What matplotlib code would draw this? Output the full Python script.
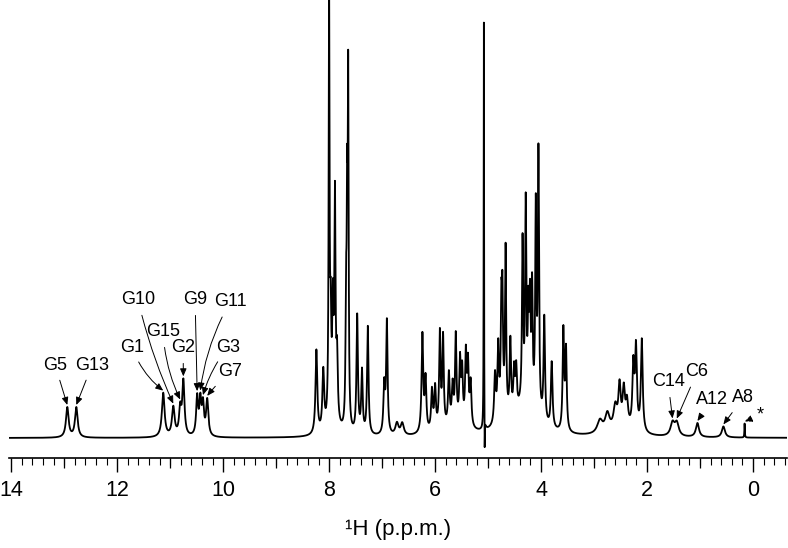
import numpy as np
import matplotlib
matplotlib.use("Agg")
import matplotlib.pyplot as plt

plt.rcParams['font.family'] = ['Liberation Sans', 'DejaVu Sans']

# peak list: shift (p.p.m.), height (a.u.), half width (p.p.m.)
imino_ppm = [12.94, 12.77, 11.13, 10.94, 10.81, 10.75, 10.49, 10.43, 10.38, 10.30]
imino_h = [30, 30, 44, 29, 26, 54, 38, 34, 30, 36]
imino_w = [0.03, 0.03, 0.03, 0.03, 0.025, 0.025, 0.022, 0.022, 0.022, 0.025]

arom_ppm = [8.24, 8.11, 8.00, 7.97, 7.93, 7.89, 7.85, 7.68, 7.66, 7.64,
            7.47, 7.38, 7.27, 6.96, 6.91, 6.72, 6.62]
arom_h = [84, 60, 420, 85, 100, 215, 62, 115, 190, 335,
          118, 62, 108, 48, 112, 12, 12]
arom_w = [0.02, 0.02, 0.01, 0.013, 0.013, 0.013, 0.016, 0.012, 0.01, 0.01,
          0.016, 0.016, 0.016, 0.018, 0.016, 0.035, 0.035]

ribo_ppm = [6.24, 6.18, 6.06, 6.00, 5.91, 5.85, 5.74, 5.67, 5.61, 5.53,
            5.49, 5.42, 5.38, 5.33,
            4.87, 4.81, 4.75, 4.73, 4.67, 4.58, 4.51, 4.47, 4.35, 4.29,
            4.24, 4.21, 4.17, 4.10, 4.05, 3.94, 3.80, 3.58, 3.53]
ribo_h = [98, 52, 40, 42, 95, 90, 52, 38, 88, 62,
          52, 70, 60, 44,
          48, 70, 95, 105, 165, 75, 42, 42, 160, 195,
          85, 95, 115, 200, 260, 105, 66, 100, 80]
ribo_w = [0.018, 0.018, 0.018, 0.018, 0.016, 0.016, 0.018, 0.018, 0.016, 0.016,
          0.016, 0.016, 0.016, 0.018,
          0.018, 0.016, 0.013, 0.013, 0.013, 0.016, 0.016, 0.016, 0.013, 0.013,
          0.013, 0.013, 0.013, 0.013, 0.013, 0.016, 0.018, 0.016, 0.016]

# broad humps under the crowded regions
hump_ppm = [7.92, 4.30, 4.75, 5.60, 2.45]
hump_h = [18, 30, 12, 8, 8]
hump_w = [0.08, 0.25, 0.1, 0.3, 0.25]

methyl_ppm = [2.89, 2.75, 2.60, 2.52, 2.44, 2.38, 2.26, 2.21, 2.10,
              1.52, 1.44, 1.05, 0.56, 0.16]
methyl_h = [13, 18, 22, 40, 36, 24, 62, 80, 92, 13, 13, 14, 11, 14]
methyl_w = [0.06, 0.05, 0.04, 0.025, 0.025, 0.025, 0.02, 0.02, 0.02,
            0.045, 0.045, 0.035, 0.035, 0.005]

# residual water line with its negative lobe
water_ppm = [5.08, 5.065]
water_h = [415, -45]
water_w = [0.004, 0.004]

labels = ['G5', 'G13', 'G1', 'G10', 'G15', 'G2', 'G9', 'G11', 'G3', 'G7',
          'C14', 'C6', 'A12', 'A8', '*']
label_ppm = [12.94, 12.77, 11.13, 10.94, 10.81, 10.75, 10.49, 10.43, 10.38, 10.30,
             1.52, 1.44, 1.05, 0.56, 0.16]

peak_ppm = np.array(imino_ppm + arom_ppm + ribo_ppm + hump_ppm + methyl_ppm + water_ppm)
peak_h = np.array(imino_h + arom_h + ribo_h + hump_h + methyl_h + water_h, dtype=float)
peak_w = np.array(imino_w + arom_w + ribo_w + hump_w + methyl_w + water_w)


def spectrum(x):
    x = np.atleast_1d(x)[:, None]
    return (peak_h * peak_w**2 / ((x - peak_ppm)**2 + peak_w**2)).sum(axis=1)


ppm = np.linspace(14.04, -0.64, 12000)
inten = spectrum(ppm)

W, H = 788, 548
fig = plt.figure(figsize=(W / 100, H / 100), dpi=100)
ax = fig.add_axes([9 / W, (H - 458) / H, 778 / W, 458 / H])
ax.plot(ppm, inten, color='black', lw=1.3)
ax.set_xlim(14.04, -0.64)
ax.set_ylim(-20, 438)

for s in ['top', 'left', 'right']:
    ax.spines[s].set_visible(False)
ax.spines['bottom'].set_linewidth(1.2)
ax.set_yticks([])
ax.set_xticks(np.arange(0, 15, 2))
ax.set_xticks(np.arange(-0.6, 14.01, 0.2), minor=True)
ax.tick_params(axis='x', which='major', length=10, width=1.0, pad=6, labelsize=15.5)
ax.tick_params(axis='x', which='minor', length=5, width=0.8)
ax.set_xlabel('¹H (p.p.m.)', fontsize=16, labelpad=13)

# medium ticks at odd p.p.m.
sec = ax.secondary_xaxis('bottom')
sec.set_xticks(np.arange(1, 14, 2))
sec.set_xticklabels([])
sec.tick_params(axis='x', which='major', length=7.5, width=0.9)
sec.tick_params(axis='x', which='minor', length=0)
sec.spines['bottom'].set_visible(False)


def px_to_data(px, py):
    return (753 - px) / 53.0, 438 - py


# label centres in pixels of the original layout
text_px = [(55, 365), (92, 365), (132, 347), (138, 300), (163, 332), (183, 348),
           (195, 300), (230, 302), (228, 347), (230, 372),
           (668, 382), (697, 372), (712, 400), (743, 398), (760, 415)]
rads = [0, 0, 0.15, 0.05, 0.1, 0, 0, 0.1, 0.1, 0.05, 0, 0, 0, 0, 0]

for name, p, (tx, ty), rad in zip(labels, label_ppm, text_px, rads):
    tip = (p, spectrum(p)[0] + 2)
    ls = '--' if name == '*' else '-'
    ax.annotate(name, xy=tip, xytext=px_to_data(tx, ty), textcoords='data',
                ha='center', va='center', fontsize=13,
                arrowprops=dict(arrowstyle='-|>,head_length=0.35,head_width=0.15',
                                color='black', lw=0.7, ls=ls, shrinkA=3, shrinkB=0,
                                connectionstyle=f'arc3,rad={rad}'))

fig.savefig('out.png', dpi=100)
